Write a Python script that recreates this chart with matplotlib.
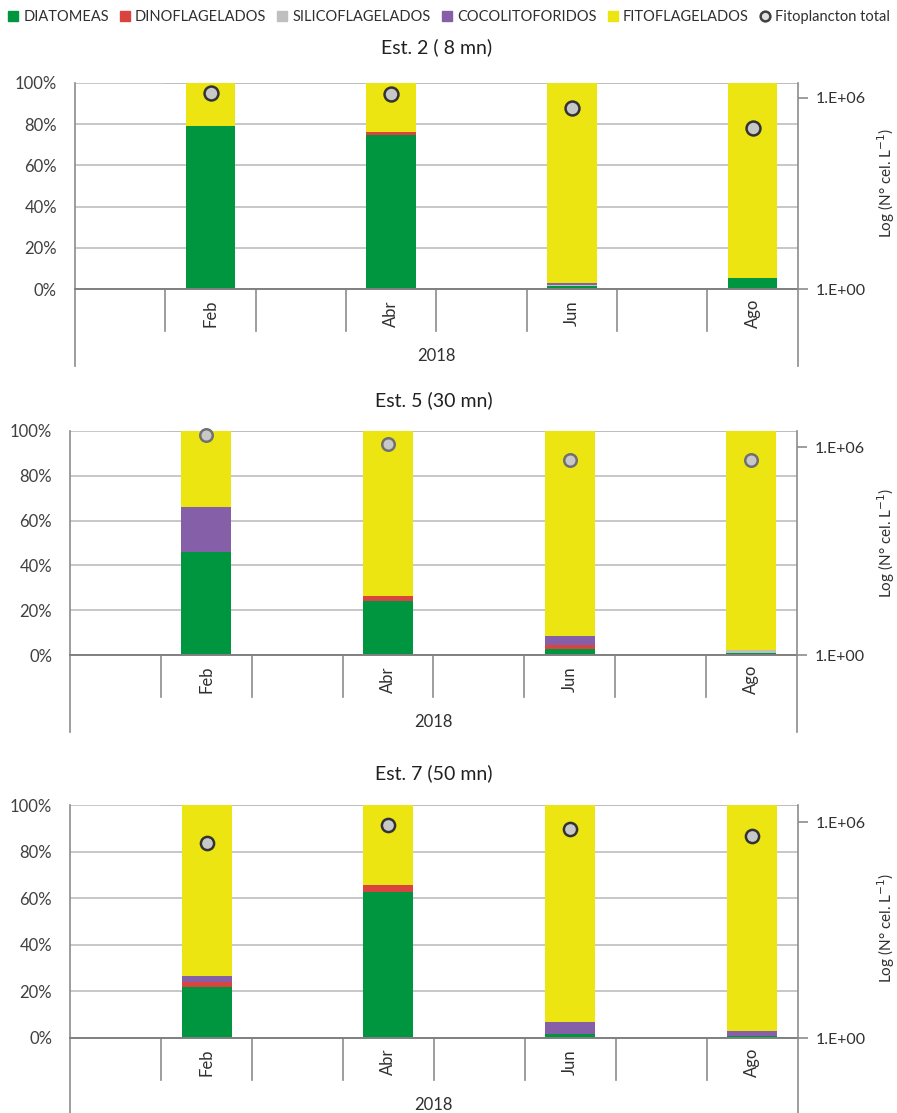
import numpy as np
import matplotlib.pyplot as plt
import matplotlib.transforms as mtransforms
from matplotlib.lines import Line2D
from matplotlib.ticker import FuncFormatter

plt.rcParams['font.family'] = ['Lato', 'DejaVu Sans']

W, H = 897, 1113

categories = ['', 'Feb', '', 'Abr', '', 'Jun', '', 'Ago']
year = '2018'
groups = ['DIATOMEAS', 'DINOFLAGELADOS', 'SILICOFLAGELADOS', 'COCOLITOFORIDOS', 'FITOFLAGELADOS']
colors = ['#00963F', '#D9443F', '#BFBFBF', '#8560A8', '#EDE512']

# composition (%) for Feb, Abr, Jun, Ago
est2_diatomeas = [79.0, 74.5, 1.5, 5.3]
est2_dinoflagelados = [0.0, 1.5, 0.0, 0.0]
est2_silicoflagelados = [0.0, 0.0, 0.5, 0.0]
est2_cocolitoforidos = [0.0, 0.0, 1.0, 0.0]
est2_fitoflagelados = [21.0, 24.0, 97.0, 94.7]
est2_total = [1.47e6, 1.3e6, 5.0e5, 1.1e5]

est5_diatomeas = [46.0, 24.0, 2.7, 1.0]
est5_dinoflagelados = [0.0, 2.2, 1.8, 0.0]
est5_silicoflagelados = [0.0, 0.0, 0.0, 1.5]
est5_cocolitoforidos = [20.0, 0.0, 3.9, 0.0]
est5_fitoflagelados = [34.0, 73.8, 91.6, 97.5]
est5_total = [2.2e6, 1.2e6, 4.4e5, 4.2e5]

est7_diatomeas = [21.8, 62.7, 1.6, 1.0]
est7_dinoflagelados = [2.4, 2.8, 0.0, 0.0]
est7_silicoflagelados = [0.0, 0.0, 0.0, 0.0]
est7_cocolitoforidos = [2.4, 0.0, 5.4, 2.0]
est7_fitoflagelados = [73.4, 34.5, 93.0, 97.0]
est7_total = [2.7e5, 8.1e5, 6.3e5, 4.2e5]

titles = ['Est. 2 ( 8 mn)', 'Est. 5 (30 mn)', 'Est. 7 (50 mn)']
stations = [
    [est2_diatomeas, est2_dinoflagelados, est2_silicoflagelados, est2_cocolitoforidos, est2_fitoflagelados],
    [est5_diatomeas, est5_dinoflagelados, est5_silicoflagelados, est5_cocolitoforidos, est5_fitoflagelados],
    [est7_diatomeas, est7_dinoflagelados, est7_silicoflagelados, est7_cocolitoforidos, est7_fitoflagelados],
]
totals = [est2_total, est5_total, est7_total]

# panel boxes in pixels: left, right, top, bottom
boxes = [(75, 797.7, 82.7, 289.3), (70.3, 796.5, 430.7, 655.3), (70.3, 797.5, 805, 1038)]
title_y = [47, 400, 773]
ylabel_y = [183, 543, 928]
circle_edge = ['#333333', '#707070', '#333333']
circle_size = [10, 9, 9.5]

axis_col = '#8C8C8C'
grid_col = '#BDBDBD'
text_col = '#303030'

fig = plt.figure(figsize=(W / 100, H / 100), dpi=100)

pos = [i for i, c in enumerate(categories) if c]

for k in range(3):
    l, r, t, b = boxes[k]
    ax = fig.add_axes([l / W, 1 - b / H, (r - l) / W, (b - t) / H])
    h_px = b - t

    bottom = np.zeros(len(pos))
    for vals, col in zip(stations[k], colors):
        ax.bar(pos, vals, bottom=bottom, width=0.55, color=col, linewidth=0, zorder=2)
        bottom += np.array(vals)

    ax.set_xlim(-0.5, len(categories) - 0.5)
    ax.set_ylim(0, 100)
    ax.set_yticks(np.arange(0, 101, 20))
    ax.yaxis.set_major_formatter(FuncFormatter(lambda v, p: f'{v:.0f}%'))
    ax.grid(axis='y', color=grid_col, lw=1.2, zorder=0)
    ax.set_axisbelow(True)
    ax.tick_params(axis='y', length=0, pad=13, labelsize=12, labelcolor='#404040')
    ax.tick_params(axis='x', length=0, labelbottom=False)
    for s in ['top', 'right']:
        ax.spines[s].set_visible(False)
    ax.spines['left'].set_color(axis_col)
    ax.spines['left'].set_linewidth(1.2)
    ax.spines['bottom'].set_color('#808080')
    ax.spines['bottom'].set_linewidth(1.4)

    # two-level category axis: month dividers and year group
    trans = mtransforms.blended_transform_factory(ax.transData, ax.transAxes)
    for d in np.arange(0.5, len(categories) - 1, 1):
        ax.plot([d, d], [0, -42 / h_px], transform=trans, color=axis_col, lw=1.2, clip_on=False)
    for d in [-0.5, len(categories) - 0.5]:
        ax.plot([d, d], [0, -77 / h_px], transform=trans, color=axis_col, lw=1.2, clip_on=False)
    for i in pos:
        ax.text(i, -24 / h_px, categories[i], transform=trans, rotation=90, ha='center',
                va='center', fontsize=12, color=text_col)
    ax.text((len(categories) - 1) / 2, -67 / h_px, year, transform=trans, ha='center',
            va='center', fontsize=12, color=text_col)

    fig.text(((l + r) / 2) / W, 1 - title_y[k] / H, titles[k], ha='center', va='center',
             fontsize=14, color='#202020')

    ax2 = ax.twinx()
    ax2.set_yscale('log')
    ax2.set_ylim(1, 3e6)
    ax2.plot(pos, totals[k], linestyle='', marker='o', ms=circle_size[k], mfc='#C8C8C8',
             mec=circle_edge[k], mew=1.8, zorder=5, clip_on=False)
    ax2.set_yticks([1, 1e6])
    ax2.set_yticklabels(['1.E+00', '1.E+06'])
    ax2.yaxis.set_minor_locator(plt.NullLocator())
    ax2.tick_params(axis='y', length=7, width=1.2, color=axis_col, pad=6, labelsize=11.5,
                    labelcolor=text_col)
    for s in ['top', 'left', 'bottom']:
        ax2.spines[s].set_visible(False)
    ax2.spines['right'].set_color(axis_col)
    ax2.spines['right'].set_linewidth(1.2)
    fig.text(886 / W, 1 - ylabel_y[k] / H, 'Log (N° cel. L$^{-1}$)', rotation=90,
             ha='center', va='center', fontsize=11, color=text_col)
    ax.plot([0.5, len(categories) - 0.5], [100, 100], color=grid_col, lw=1.2, zorder=1)

handles = [Line2D([], [], marker='s', linestyle='', color=c, markersize=7) for c in colors]
handles.append(Line2D([], [], marker='o', linestyle='', mfc='#E0E0E0', mec='#404040',
                      mew=1.8, markersize=7))
fig.legend(handles, groups + ['Fitoplancton total'], loc='center',
           bbox_to_anchor=(0.5, 1 - 17 / H), ncol=6, frameon=False, fontsize=10.5,
           handlelength=0.8, handletextpad=0.3, columnspacing=0.7, labelcolor=text_col)

fig.savefig('out.png', dpi=100)
